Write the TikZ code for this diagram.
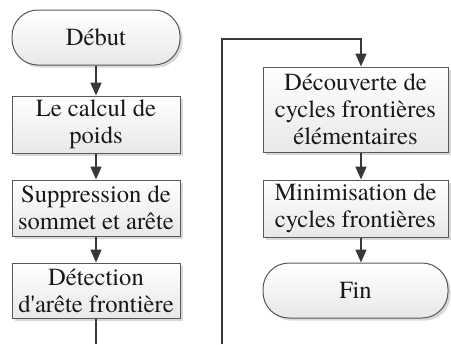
\documentclass[tikz,border=0pt]{standalone}
\usepackage{fontspec}
\setmainfont{TeX Gyre Termes}[Ligatures=TeXOff]
\usetikzlibrary{arrows.meta,shadows}
\tikzset{
  procbox/.style={draw=black!65, line width=0.5pt, top color=white, bottom color=black!9,
    drop shadow={shadow xshift=1.3pt, shadow yshift=-1.3pt, fill=black!30, opacity=0.5},
    inner sep=0pt, align=center, text=black!90,
    font=\fontsize{12.3}{13.6}\selectfont},
  termbox/.style={procbox, rounded corners=13pt},
  flow/.style={draw=black!78, line width=0.8pt, -{Triangle[length=6.5pt,width=5.5pt]}},
  link/.style={draw=black!78, line width=0.8pt}
}
\begin{document}
\begin{tikzpicture}[x=0.5pt,y=-0.5pt]
\useasboundingbox (0,0) rectangle (451,344);
% left column
\node[termbox, minimum width=84pt, minimum height=27.5pt] (debut) at (96,37.5) {Début};
\node[procbox, minimum width=84pt, minimum height=28.5pt] (calcul) at (96,124.5) {Le calcul de\\poids};
\node[procbox, minimum width=84pt, minimum height=28pt] (suppr) at (96,208) {Suppression de\\sommet et arête};
\node[procbox, minimum width=84pt, minimum height=27.5pt] (detect) at (96,290.5) {Détection\\d'arête frontière};
% right column
\node[procbox, minimum width=92.5pt, minimum height=42.5pt] (decouv) at (355.5,109.5) {Découverte de\\cycles frontières\\élémentaires};
\node[procbox, minimum width=92.5pt, minimum height=28.5pt] (minim) at (355.5,208.5) {Minimisation de\\cycles frontières};
\node[termbox, minimum width=92.5pt, minimum height=27.5pt] (fin) at (355.5,290.5) {Fin};
% connectors
\coordinate (lowL) at (96,344);
\coordinate (lowR) at (222,344);
\coordinate (topR) at (361,39);
\draw[flow] (debut) -- (calcul);
\draw[flow] (calcul) -- (suppr);
\draw[flow] (suppr) -- (detect);
\draw[link] (detect) -- (lowL);
\draw[flow] (lowR) |- (topR) -- (topR |- decouv.north);
\draw[flow] (decouv.south -| topR) -- (minim.north -| topR);
\draw[flow] (minim.south -| topR) -- (fin.north -| topR);
\end{tikzpicture}
\end{document}
